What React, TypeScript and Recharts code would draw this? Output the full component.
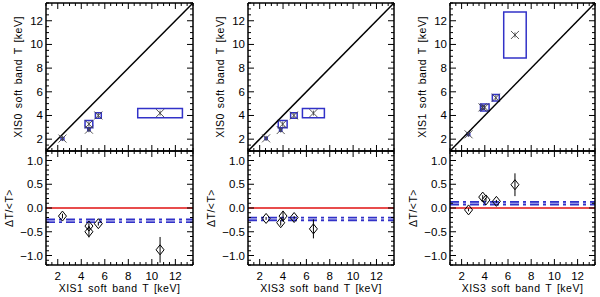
import { ScatterChart, Scatter, XAxis, YAxis, ReferenceLine, ReferenceArea, ErrorBar, Label } from 'recharts';

const FONT = '"Liberation Sans", Arial, sans-serif';
const BLUE = '#3232c8';
const W = 600;
const H = 297;

// axes
const T_DOMAIN = [1, 13.5];
const R_DOMAIN = [-1.2, 1.2];
const T_MAJOR = [2, 4, 6, 8, 10, 12];
const R_MAJOR = [-1, -0.5, 0, 0.5, 1];

// XIS1 vs XIS0
const aX = [2.4, 4.65, 4.65, 5.45, 10.7];
const aY = [2.05, 3.27, 2.8, 4.0, 4.2];
const aXErr = [0.12, 0.33, 0.1, 0.25, 1.9];
const aYErr = [0.1, 0.3, 0.1, 0.23, 0.4];
const aRx = [2.4, 4.65, 4.65, 5.45, 10.7];
const aR = [-0.17, -0.38, -0.5, -0.33, -0.88];
const aRErr = [0.05, 0.06, 0.12, 0.04, 0.27];
const aMean = -0.27;

// XIS3 vs XIS0
const bX = [2.55, 3.97, 3.8, 4.93, 6.6];
const bY = [2.07, 3.27, 2.77, 4.0, 4.2];
const bXErr = [0.1, 0.38, 0.1, 0.28, 0.94];
const bYErr = [0.1, 0.3, 0.1, 0.23, 0.4];
const bRx = [2.55, 3.8, 4.0, 4.95, 6.6];
const bR = [-0.22, -0.31, -0.17, -0.2, -0.44];
const bRErr = [0.03, 0.06, 0.11, 0.03, 0.2];
const bMean = -0.23;

// XIS3 vs XIS1
const cX = [2.6, 3.8, 4.0, 4.95, 6.6];
const cY = [2.41, 4.68, 4.68, 5.5, 10.8];
const cXErr = [0.1, 0.15, 0.37, 0.3, 0.97];
const cYErr = [0.1, 0.15, 0.3, 0.27, 1.95];
const cRx = [2.6, 3.82, 4.1, 5.0, 6.6];
const cR = [-0.04, 0.23, 0.17, 0.14, 0.49];
const cRErr = [0.03, 0.04, 0.04, 0.03, 0.24];
const cMean = 0.1;

function steps(a: number, b: number, s: number) {
  const out: number[] = [];
  for (let v = a; v <= b + 1e-9; v += s) out.push(Math.round(v * 100) / 100);
  return out;
}
const T_TICKS = steps(1, 13.5, 0.5);
const R_TICKS = steps(-1.2, 1.2, 0.1);

const fmtT = (v: number) => String(v);
const fmtR = (v: number) => v.toFixed(1).replace('-', '\u2212');

function makeTick(side: string, majors: number[], fmt: ((v: number) => string) | null) {
  return (props: any) => {
    const { x, y, payload } = props;
    const v = payload.value;
    const major = majors.some((m) => Math.abs(m - v) < 1e-6);
    const len = major ? 6 : 3;
    let x2 = x, y2 = y;
    if (side === 'bottom') y2 = y - len;
    if (side === 'top') y2 = y + len;
    if (side === 'left') x2 = x + len;
    if (side === 'right') x2 = x - len;
    let label = null;
    if (major && fmt) {
      if (side === 'bottom')
        label = <text x={x} y={y + 15} textAnchor="middle" fontSize={11.5} fontFamily={FONT} fill="#000">{fmt(v)}</text>;
      if (side === 'left')
        label = <text x={x - 3} y={y + 4} textAnchor="end" fontSize={11.5} fontFamily={FONT} fill="#000">{fmt(v)}</text>;
    }
    return (
      <g>
        <line x1={x} y1={y} x2={x2} y2={y2} stroke="#000" strokeWidth={1} />
        {label}
      </g>
    );
  };
}

const Star = (p: any) => {
  const { cx, cy } = p;
  return (
    <g stroke="#444" strokeWidth={0.9}>
      <line x1={cx - 4} y1={cy - 4} x2={cx + 4} y2={cy + 4} />
      <line x1={cx - 4} y1={cy + 4} x2={cx + 4} y2={cy - 4} />
      <line x1={cx} y1={cy - 2.5} x2={cx} y2={cy + 2.5} />
    </g>
  );
};

const Diamond = (p: any) => {
  const { cx, cy } = p;
  return <path d={`M${cx},${cy - 5}L${cx + 4},${cy}L${cx},${cy + 5}L${cx - 4},${cy}Z`} fill="none" stroke="#000" strokeWidth={1} />;
};

const axisLine = { stroke: '#000', strokeWidth: 1.5 };
const labelStyle = { fontSize: 10.5, fontFamily: FONT, fill: '#000', letterSpacing: 0.5, wordSpacing: 1.5 };

// axes are 1px thick (zero-size axes are not drawn), margins are reduced by 1 to compensate
function Frame({ yDomain, yTicks, yMajor, yFmt, xLabels, xLabel, yLabel, yLabelOff }: any) {
  return [
    <XAxis key="xb" xAxisId={0} type="number" dataKey="x" domain={T_DOMAIN} ticks={T_TICKS} interval={0}
      height={1} tickSize={0} tickMargin={0} tickLine={false} axisLine={axisLine} allowDataOverflow
      tick={makeTick('bottom', T_MAJOR, xLabels ? fmtT : null)}>
      {xLabel && (
        <Label content={(p: any) => (
          <text x={p.viewBox.x + p.viewBox.width / 2} y={p.viewBox.y + 27} textAnchor="middle" {...labelStyle}>{xLabel}</text>
        )} />
      )}
    </XAxis>,
    <XAxis key="xt" xAxisId="t" orientation="top" type="number" dataKey="x" domain={T_DOMAIN} ticks={T_TICKS} interval={0}
      height={1} tickSize={0} tickMargin={0} tickLine={false} axisLine={axisLine} allowDataOverflow
      tick={makeTick('top', T_MAJOR, null)} />,
    <YAxis key="yl" yAxisId={0} type="number" dataKey="y" domain={yDomain} ticks={yTicks} interval={0}
      width={1} tickSize={0} tickMargin={0} tickLine={false} axisLine={axisLine} allowDataOverflow
      tick={makeTick('left', yMajor, yFmt)}>
      <Label content={(p: any) => {
        const cx = p.viewBox.x + p.viewBox.width - yLabelOff;
        const cy = p.viewBox.y + p.viewBox.height / 2;
        return (
          <text x={cx} y={cy} transform={`rotate(-90 ${cx} ${cy})`} textAnchor="middle" dominantBaseline="central" {...labelStyle}>{yLabel}</text>
        );
      }} />
    </YAxis>,
    <YAxis key="yr" yAxisId="r" orientation="right" type="number" dataKey="y" domain={yDomain} ticks={yTicks} interval={0}
      width={1} tickSize={0} tickMargin={0} tickLine={false} axisLine={axisLine} allowDataOverflow
      tick={makeTick('right', yMajor, null)} />,
  ];
}

function Column({ L, R, xs, ys, xErr, yErr, rx, rs, rErr, mean, xLabel, yLabel }: any) {
  const pts = xs.map((x: number, i: number) => ({ x, y: ys[i] }));
  const rpts = rx.map((x: number, i: number) => ({ x, y: rs[i], err: rErr[i] }));
  const base = { position: 'absolute' as const, left: 0, top: 0 };
  const side = { left: L - 1, right: W - R - 1 };
  return (
    <>
      <div style={base}>
        <ScatterChart width={W} height={H} margin={{ top: 3 - 1, bottom: H - 151 - 1, ...side }}>
          {Frame({ yDomain: T_DOMAIN, yTicks: T_TICKS, yMajor: T_MAJOR, yFmt: fmtT, xLabels: false, yLabel, yLabelOff: 28 })}
          <ReferenceLine segment={[{ x: T_DOMAIN[0], y: T_DOMAIN[0] }, { x: T_DOMAIN[1], y: T_DOMAIN[1] }]} stroke="#000" strokeWidth={1.5} ifOverflow="visible" />
          {pts.map((p: any, i: number) => (
            <ReferenceArea key={i} x1={p.x - xErr[i]} x2={p.x + xErr[i]} y1={p.y - yErr[i]} y2={p.y + yErr[i]}
              fill="none" fillOpacity={0} stroke={BLUE} strokeWidth={1.5} ifOverflow="visible" />
          ))}
          <Scatter data={pts} shape={Star} isAnimationActive={false} />
        </ScatterChart>
      </div>
      <div style={base}>
        <ScatterChart width={W} height={H} margin={{ top: 151 - 1, bottom: H - 265 - 1, ...side }}>
          {Frame({ yDomain: R_DOMAIN, yTicks: R_TICKS, yMajor: R_MAJOR, yFmt: fmtR, xLabels: true, xLabel, yLabel: '\u0394T/<T>', yLabelOff: 37 })}
          <ReferenceLine y={0} stroke="#e01010" strokeWidth={1.5} />
          <ReferenceLine y={mean} stroke={BLUE} strokeWidth={4.5} strokeDasharray="9 4 3 4" />
          <ReferenceLine y={mean} stroke="#b4b4ec" strokeWidth={1.2} strokeDasharray="9 4 3 4" />
          <Scatter data={rpts} shape={Diamond} isAnimationActive={false}>
            <ErrorBar dataKey="err" direction="y" width={0} stroke="#000" strokeWidth={1} />
          </Scatter>
        </ScatterChart>
      </div>
    </>
  );
}

export default function App() {
  return (
    <div style={{ position: 'absolute', left: 0, top: 0, width: W, height: H, background: '#fff' }}>
      <Column L={46} R={193} xs={aX} ys={aY} xErr={aXErr} yErr={aYErr} rx={aRx} rs={aR} rErr={aRErr} mean={aMean}
        xLabel="XIS1 soft band T [keV]" yLabel="XIS0 soft band T [keV]" />
      <Column L={248} R={394} xs={bX} ys={bY} xErr={bXErr} yErr={bYErr} rx={bRx} rs={bR} rErr={bRErr} mean={bMean}
        xLabel="XIS3 soft band T [keV]" yLabel="XIS0 soft band T [keV]" />
      <Column L={450} R={595} xs={cX} ys={cY} xErr={cXErr} yErr={cYErr} rx={cRx} rs={cR} rErr={cRErr} mean={cMean}
        xLabel="XIS3 soft band T [keV]" yLabel="XIS1 soft band T [keV]" />
    </div>
  );
}
